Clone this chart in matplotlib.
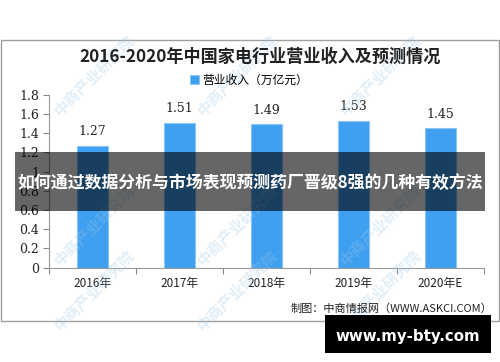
import matplotlib
matplotlib.use('Agg')
import matplotlib.pyplot as plt
from matplotlib.patches import Rectangle

plt.rcParams['font.family'] = ['Noto Sans CJK SC', 'DejaVu Sans']

# data
years = ['2016年', '2017年', '2018年', '2019年', '2020年E']
revenue = [1.27, 1.51, 1.49, 1.53, 1.45]
title = '2016-2020年中国家电行业营业收入及预测情况'
legend_label = '营业收入（万亿元）'
source = '制图：中商情报网（WWW.ASKCI.COM）'
banner = '如何通过数据分析与市场表现预测药厂晋级8强的几种有效方法'
site = 'www.my-bty.com'

W, H = 500, 362
fig = plt.figure(figsize=(W / 100, H / 100), dpi=100)

def px(x, y):
    # pixel coords (top-left origin) -> figure fraction
    return x / W, 1 - y / H

# outer frame
fig.patches.append(Rectangle(px(1, 321), 498 / W, 281 / H, transform=fig.transFigure,
                             fill=False, edgecolor='#a0a0a0', linewidth=1))

# watermarks
for wx in [95, 238, 381]:
    for wy in [75, 225, 290]:
        fig.text(*px(wx, wy), '中商产业研究院', rotation=45, ha='center', va='center',
                 fontsize=11, color='#9cc8ea', alpha=0.3, fontweight='bold')

ax = fig.add_axes([49 / W, 1 - 267.7 / H, 435 / W, 173 / H])
bars = ax.bar(range(len(years)), revenue, width=0.36, color='#3f9ff0',
              edgecolor='#8cc6f7', linewidth=0.8, label=legend_label, zorder=2)
for i, v in enumerate(revenue):
    ax.text(i, v + 0.08, '%.2f' % v, ha='center', va='bottom', fontsize=9,
            family='DejaVu Serif', color='#222222')

ax.set_xlim(-0.5, len(years) - 0.5)
ax.set_ylim(0, 1.8)
ax.set_yticks([0, 0.2, 0.4, 0.6, 0.8, 1.0, 1.2, 1.4, 1.6, 1.8])
ax.set_yticklabels(['0', '0.2', '0.4', '0.6', '0.8', '1', '1.2', '1.4', '1.6', '1.8'],
                   family='DejaVu Serif', fontsize=9, color='#222222')
ax.set_xticks([i - 0.5 for i in range(len(years) + 1)], minor=False)
ax.set_xticklabels([])
ax.set_xticks(range(len(years)), minor=True)
ax.set_xticklabels(years, minor=True, fontsize=8.5, color='#222222')
ax.tick_params(axis='x', which='minor', length=0, pad=7)
ax.tick_params(axis='x', which='major', length=4, color='#888888')
ax.tick_params(axis='y', length=4, color='#888888', pad=3)
for s in ['top', 'right']:
    ax.spines[s].set_visible(False)
for s in ['left', 'bottom']:
    ax.spines[s].set_color('#999999')
ax.patch.set_alpha(0)

fig.text(*px(260, 57), title, ha='center', va='center', fontsize=12.3,
         fontweight='bold', color='#222222')
fig.legend(handles=[bars], labels=[legend_label], loc='center',
           bbox_to_anchor=px(249, 80), frameon=False, fontsize=8.5,
           handlelength=0.8, handleheight=0.8, handletextpad=0.3)

fig.text(*px(492, 309), source, ha='right', va='center', fontsize=8, color='#222222')

# overlay banner
fig.patches.append(Rectangle(px(15, 211), 470 / W, 59 / H, transform=fig.transFigure,
                             facecolor='#000000', alpha=0.6, edgecolor='none', zorder=5))
fig.text(*px(250, 183), banner, ha='center', va='center', fontsize=12.2,
         fontweight='bold', color='white', zorder=6)

# site box
fig.patches.append(Rectangle(px(325, 353), 166 / W, 38 / H, transform=fig.transFigure,
                             facecolor='#000000', edgecolor='none', zorder=5))
fig.text(*px(408, 336), site, ha='center', va='center', fontsize=10.8,
         fontweight='bold', color='white', family='DejaVu Sans', zorder=6)

fig.savefig('out.png', dpi=100)
